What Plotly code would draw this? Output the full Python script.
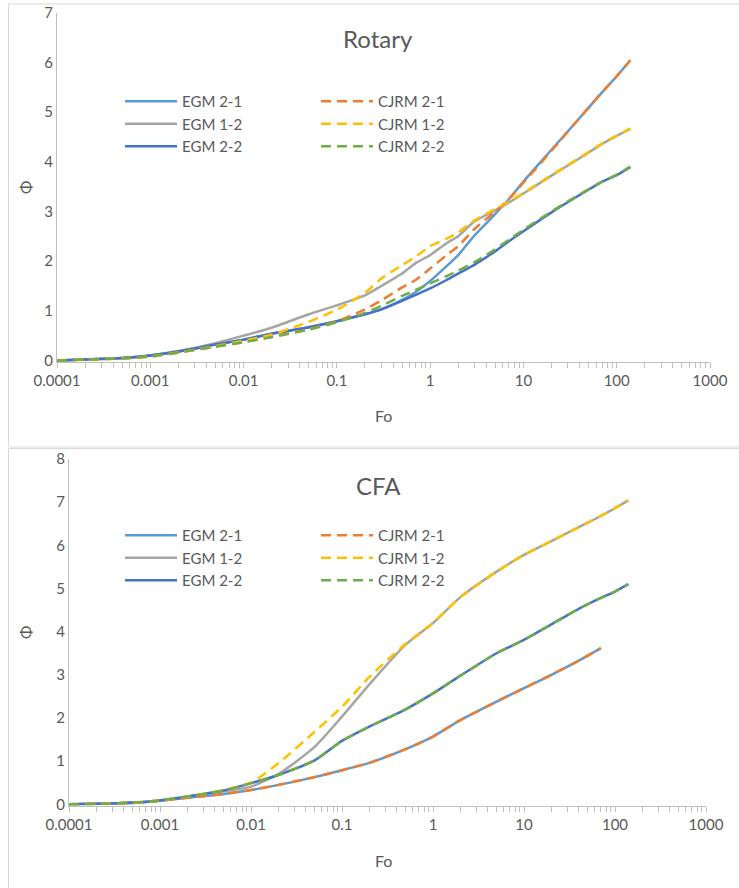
import plotly.graph_objects as go

W, H = 739, 888

# ---------------- data: Rotary ----------------
fo_rot = [0.0001, 0.0002, 0.0005, 0.001, 0.002, 0.005, 0.01, 0.02, 0.05, 0.1, 0.2, 0.3,
          0.5, 0.7, 1, 1.5, 2, 3, 5, 7, 10, 20, 40, 70, 100, 140]
rot_egm_21 = [0, 0.02, 0.05, 0.10, 0.18, 0.32, 0.42, 0.54, 0.67, 0.79, 0.93, 1.03,
              1.22, 1.38, 1.60, 1.90, 2.12, 2.52, 2.95, 3.25, 3.60, 4.24, 4.88, 5.40, 5.72, 6.04]
rot_cjrm_21 = [0, 0.02, 0.04, 0.08, 0.16, 0.28, 0.37, 0.48, 0.63, 0.79, 1.03, 1.21,
               1.47, 1.62, 1.85, 2.12, 2.30, 2.65, 3.00, 3.25, 3.58, 4.22, 4.88, 5.40, 5.72, 6.04]
rot_egm_12 = [0, 0.02, 0.05, 0.10, 0.19, 0.35, 0.50, 0.66, 0.93, 1.11, 1.31, 1.50,
              1.75, 1.96, 2.12, 2.36, 2.50, 2.80, 3.02, 3.18, 3.36, 3.72, 4.07, 4.36, 4.52, 4.66]
rot_cjrm_12 = [0, 0.02, 0.04, 0.08, 0.16, 0.29, 0.40, 0.52, 0.78, 1.02, 1.36, 1.65,
               1.92, 2.09, 2.30, 2.45, 2.58, 2.82, 3.05, 3.20, 3.37, 3.73, 4.08, 4.37, 4.52, 4.67]
rot_egm_22 = [0, 0.02, 0.05, 0.10, 0.18, 0.32, 0.42, 0.54, 0.67, 0.79, 0.93, 1.03,
              1.20, 1.32, 1.45, 1.62, 1.75, 1.93, 2.20, 2.40, 2.60, 2.98, 3.33, 3.60, 3.73, 3.89]
rot_cjrm_22 = [0, 0.02, 0.04, 0.08, 0.16, 0.28, 0.37, 0.47, 0.62, 0.77, 0.96, 1.10,
               1.30, 1.42, 1.55, 1.70, 1.81, 1.98, 2.24, 2.43, 2.63, 3.00, 3.34, 3.60, 3.74, 3.90]

# ---------------- data: CFA ----------------
fo_cfa = [0.0001, 0.0002, 0.0005, 0.001, 0.002, 0.005, 0.01, 0.02, 0.05, 0.1, 0.2, 0.5,
          1, 2, 5, 10, 20, 40, 70, 100, 140]
fo_cfa_21 = [0.0001, 0.0002, 0.0005, 0.001, 0.002, 0.005, 0.01, 0.02, 0.05, 0.1, 0.2, 0.5,
             1, 2, 5, 10, 20, 40, 70]
cfa_egm_21 = [0, 0.01, 0.03, 0.08, 0.15, 0.24, 0.33, 0.45, 0.63, 0.79, 0.96, 1.28,
              1.57, 1.95, 2.38, 2.69, 3.00, 3.33, 3.62]
cfa_cjrm_21 = [0, 0.01, 0.03, 0.08, 0.15, 0.24, 0.33, 0.45, 0.63, 0.79, 0.96, 1.28,
               1.57, 1.95, 2.38, 2.69, 3.00, 3.33, 3.62]
cfa_egm_12 = [0, 0.01, 0.04, 0.09, 0.18, 0.30, 0.41, 0.70, 1.33, 2.03, 2.78, 3.70,
              4.20, 4.80, 5.39, 5.78, 6.10, 6.42, 6.68, 6.86, 7.04]
cfa_cjrm_12 = [0, 0.01, 0.04, 0.09, 0.18, 0.33, 0.50, 0.95, 1.68, 2.26, 2.95, 3.72,
               4.20, 4.80, 5.39, 5.78, 6.10, 6.42, 6.68, 6.86, 7.04]
cfa_egm_22 = [0, 0.01, 0.04, 0.09, 0.18, 0.32, 0.49, 0.68, 1.02, 1.47, 1.80, 2.20,
              2.57, 2.98, 3.50, 3.81, 4.17, 4.53, 4.78, 4.93, 5.10]
cfa_cjrm_22 = [0, 0.01, 0.04, 0.09, 0.18, 0.32, 0.49, 0.68, 1.02, 1.47, 1.80, 2.20,
               2.57, 2.98, 3.50, 3.81, 4.17, 4.53, 4.78, 4.93, 5.10]

names_egm = ["EGM 2-1", "EGM 1-2", "EGM 2-2"]
names_cjrm = ["CJRM 2-1", "CJRM 1-2", "CJRM 2-2"]
colors_egm = ["#5B9BD5", "#A5A5A5", "#4472C4"]
colors_cjrm = ["#ED7D31", "#FFC000", "#70AD47"]

x_tickvals = [0.0001, 0.001, 0.01, 0.1, 1, 10, 100, 1000]
x_ticktext = ["0.0001", "0.001", "0.01", "0.1", "1", "10", "100", "1000"]
minor_vals = [m * 10 ** e for e in range(-4, 3) for m in range(2, 10)]

TXT = "#595959"
AX = "#BFBFBF"
FONT = "Lato"

def px_x(p):
    return p / W

def px_y(p):
    return 1 - p / H

fig = go.Figure()

panels = [
    dict(xa="x", ya="y", fo=[fo_rot, fo_rot, fo_rot],
         egm=[rot_egm_21, rot_egm_12, rot_egm_22],
         cjrm=[rot_cjrm_21, rot_cjrm_12, rot_cjrm_22],
         leg_e="legend", leg_c="legend2", tag="r"),
    dict(xa="x2", ya="y2", fo=[fo_cfa_21, fo_cfa, fo_cfa],
         egm=[cfa_egm_21, cfa_egm_12, cfa_egm_22],
         cjrm=[cfa_cjrm_21, cfa_cjrm_12, cfa_cjrm_22],
         leg_e="legend3", leg_c="legend4", tag="c"),
]

for p in panels:
    for i in range(3):
        fig.add_trace(go.Scatter(
            x=p["fo"][i], y=p["egm"][i], mode="lines", name=names_egm[i],
            line=dict(color=colors_egm[i], width=2.5, shape="spline", smoothing=0.6),
            xaxis=p["xa"], yaxis=p["ya"], legend=p["leg_e"],
            legendgroup=p["tag"] + "e" + str(i)))
    for i in range(3):
        fig.add_trace(go.Scatter(
            x=p["fo"][i], y=p["cjrm"][i], mode="lines", name=names_cjrm[i],
            line=dict(color=colors_cjrm[i], width=2.5, dash="10px,6px",
                      shape="spline", smoothing=0.6),
            xaxis=p["xa"], yaxis=p["ya"], legend=p["leg_c"],
            legendgroup=p["tag"] + "c" + str(i)))

xcommon = dict(type="log", range=[-4, 3], showgrid=False, zeroline=False,
               showline=True, linecolor=AX, linewidth=1, automargin=False,
               ticks="outside", ticklen=5, tickcolor=AX, tickwidth=1,
               tickmode="array", tickvals=x_tickvals, ticktext=x_ticktext,
               ticklabeloverflow="allow",
               minor=dict(tickmode="array", tickvals=minor_vals, ticks="outside",
                          ticklen=5, tickcolor=AX, tickwidth=1, showgrid=False),
               tickfont=dict(family=FONT, size=15, color=TXT))
ycommon = dict(showgrid=False, zeroline=False, showline=True, linecolor=AX,
               linewidth=1, ticks="", dtick=1, automargin=False,
               ticklabeloverflow="allow",
               tickfont=dict(family=FONT, size=15, color=TXT))

fig.update_layout(
    width=W, height=H, margin=dict(l=0, r=0, t=0, b=0),
    paper_bgcolor="white", plot_bgcolor="white",
    xaxis=dict(xcommon, domain=[px_x(57), px_x(710)], anchor="y"),
    yaxis=dict(ycommon, domain=[px_y(362), px_y(12.6)], range=[-0.03, 7], anchor="x"),
    xaxis2=dict(xcommon, domain=[px_x(69), px_x(706)], anchor="y2"),
    yaxis2=dict(ycommon, domain=[px_y(805.6), px_y(459)], range=[-0.03, 8], anchor="x2"),
)

leg_common = dict(xanchor="left", yanchor="top", bgcolor="rgba(0,0,0,0)",
                  font=dict(family=FONT, size=15, color=TXT),
                  traceorder="grouped", tracegroupgap=0, itemwidth=52)
fig.update_layout(
    legend=dict(leg_common, x=px_x(120), y=px_y(85)),
    legend2=dict(leg_common, x=px_x(316), y=px_y(85)),
    legend3=dict(leg_common, x=px_x(120), y=px_y(519)),
    legend4=dict(leg_common, x=px_x(316), y=px_y(519)),
)

# chart borders
fig.add_shape(type="rect", xref="paper", yref="paper",
              x0=px_x(8.5), x1=1.02, y0=px_y(447), y1=px_y(4),
              line=dict(color="#D9D9D9", width=1), fillcolor="rgba(0,0,0,0)", layer="below")
fig.add_shape(type="rect", xref="paper", yref="paper",
              x0=px_x(8.5), x1=1.02, y0=-0.02, y1=px_y(448.5),
              line=dict(color="#D9D9D9", width=1), fillcolor="rgba(0,0,0,0)", layer="below")

def ann(text, x, y, size, angle=0):
    fig.add_annotation(text=text, xref="paper", yref="paper", x=px_x(x), y=px_y(y),
                       xanchor="center", yanchor="middle", showarrow=False,
                       textangle=angle, font=dict(family=FONT, size=size, color=TXT))

ann("Rotary", 378, 38, 24)
ann("CFA", 378, 485, 24)
ann("Fo", 383, 415, 16)
ann("Fo", 383, 860, 16)
ann("Φ", 25, 188, 16, -90)
ann("Φ", 25, 633, 16, -90)

fig.write_html(
    "out.html",
    config={"displayModeBar": False},
    post_script="document.body.style.margin='0';document.body.style.overflow='hidden';",
)
